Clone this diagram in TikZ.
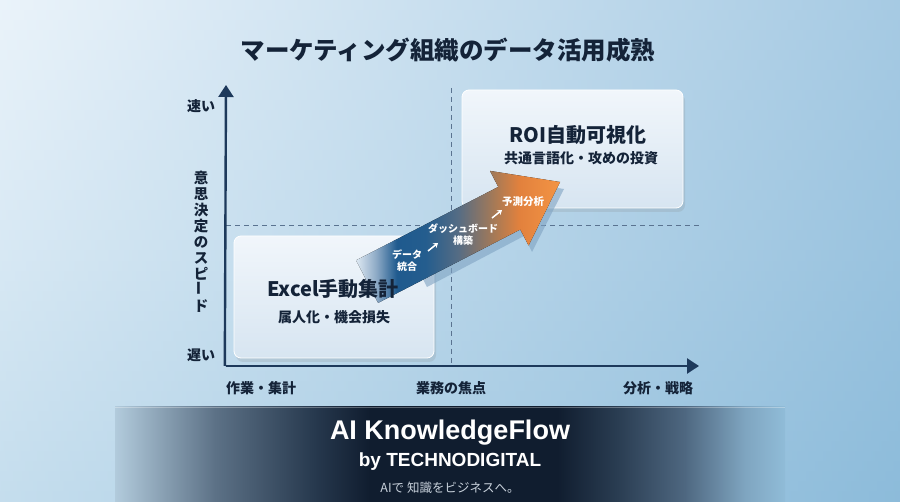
\documentclass[tikz,border=0pt]{standalone}
\usepackage{fontspec}
\setmainfont{Noto Sans CJK JP}
\newfontfamily\brandfont{Liberation Sans}
\usetikzlibrary{arrows.meta, shadows}

\definecolor{bgLight}{HTML}{EAF3FA}
\definecolor{bgDeep}{HTML}{A6CAE3}
\definecolor{bgLowL}{HTML}{C4DDED}
\definecolor{bgLowR}{HTML}{8CBBDA}
\definecolor{axisBlue}{HTML}{1D395B}
\definecolor{guideGray}{HTML}{5A7390}
\definecolor{inkNavy}{HTML}{142338}
\definecolor{boxTop}{HTML}{F1F6FB}
\definecolor{boxBot}{HTML}{D7E5F1}
\definecolor{flowFade}{HTML}{DDE8F2}
\definecolor{flowHaze}{HTML}{8CA9C5}
\definecolor{flowBlue}{HTML}{1F5A8E}
\definecolor{flowDeep}{HTML}{245D8E}
\definecolor{flowSlate}{HTML}{556C84}
\definecolor{flowBrown}{HTML}{A87A55}
\definecolor{flowAmber}{HTML}{E2813D}
\definecolor{flowOrange}{HTML}{F39444}
\definecolor{flowShadow}{HTML}{7FA3C2}
\definecolor{bandLeft}{HTML}{B2CBDC}
\definecolor{bandSoftL}{HTML}{5C7186}
\definecolor{bandMidL}{HTML}{26384D}
\definecolor{bandDark}{HTML}{101D2F}
\definecolor{bandMidR}{HTML}{2A3D52}
\definecolor{bandSoftR}{HTML}{4E6780}
\definecolor{bandPaleR}{HTML}{7FA5C0}
\definecolor{bandRight}{HTML}{90BCD8}
\definecolor{tagGray}{HTML}{C9D2DC}

% shadings are fitted so that 25bp..75bp spans the path
\pgfdeclarehorizontalshading{bandshade}{100bp}{color(0bp)=(bandLeft); color(25bp)=(bandLeft); color(32.5bp)=(bandSoftL); color(40bp)=(bandMidL); color(44bp)=(bandDark); color(58bp)=(bandDark); color(62.5bp)=(bandMidR); color(67.5bp)=(bandSoftR); color(72bp)=(bandPaleR); color(75bp)=(bandRight); color(100bp)=(bandRight)}
\pgfdeclarehorizontalshading{flowshade}{100bp}{color(0bp)=(flowFade); color(25bp)=(flowFade); color(30bp)=(flowHaze); color(35bp)=(flowBlue); color(42bp)=(flowDeep); color(50bp)=(flowSlate); color(59bp)=(flowBrown); color(65bp)=(flowAmber); color(75bp)=(flowOrange); color(100bp)=(flowOrange)}

\begin{document}
\begin{tikzpicture}[
    x=1pt, y=-1pt,
    axis/.style={draw=axisBlue, line width=2.4pt, -{Triangle[length=12pt, width=15pt]}},
    guide/.style={draw=guideGray, line width=0.8pt, dash pattern=on 5pt off 4pt},
    stage/.style={draw=white, line width=0.8pt, rounded corners=7pt, top color=boxTop, bottom color=boxBot, drop shadow={opacity=0.18, shadow xshift=2pt, shadow yshift=-4pt}},
    headline/.style={text=inkNavy, font=\bfseries\fontsize{20}{24}\selectfont},
    subline/.style={text=inkNavy, font=\bfseries\fontsize{14}{17}\selectfont},
    axislabel/.style={text=inkNavy, font=\bfseries\fontsize{14}{17}\selectfont},
    steplabel/.style={text=white, font=\bfseries\fontsize{10}{12}\selectfont, align=center},
    tick/.style={white, line width=1.5pt, -{Stealth[length=4.5pt, width=6pt]}}
]
\useasboundingbox (0,0) rectangle (900,502);

% Background in strips and footer band
\foreach \i in {0,...,49} {
    \pgfmathtruncatemacro\p{100-2*\i}
    \fill[left color=bgLight!\p!bgLowL, right color=bgDeep!\p!bgLowR] (0,\i*10.04) rectangle (900,\i*10.04+10.6);
}
\fill[shading=bandshade] (115,407) rectangle (785,502);
\draw[white, opacity=0.3, line width=0.8pt] (115,407.5) -- (785,407.5);

% Title
\node[text=inkNavy, font=\bfseries\fontsize{24.5}{28}\selectfont] (title) at (448,50) {マーケティング組織のデータ活用成熟};

% Axes
\coordinate (origin) at (226,366);
\coordinate (ytop) at (226,85);
\coordinate (xend) at (699,366);
\coordinate (midtop) at (451,88);
\coordinate (midbot) at (451,366);
\coordinate (hleft) at (226,225);
\coordinate (hright) at (700,225);

\draw[guide] (midtop) -- (midbot);
\draw[guide] (hleft) -- (hright);
\draw[axis] ([xshift=-1.2pt]origin) -- (ytop);
\draw[axis] (origin) -- (xend);

% Axis labels
\node[axislabel] (fast) at (201,106) {速い};
\node[axislabel] (slow) at (201,355) {遅い};
\node[axislabel, font=\bfseries\fontsize{14.5}{16}\selectfont, align=center] (speed) at (201,242)
    {意\\思\\決\\定\\の\\ス\\ピ\\\rotatebox{90}{ー}\\ド};
\node[axislabel] (work) at (261,388) {作業・集計};
\node[axislabel] (focus) at (451,388) {業務の焦点};
\node[axislabel] (analysis) at (658,388) {分析・戦略};

% Stages
\node[stage, minimum width=200pt, minimum height=122pt] (excel) at (334,297) {};
\node[stage, minimum width=221pt, minimum height=118pt] (roi) at (572.5,149) {};

% Flow arrow
\fill[flowShadow, opacity=0.6] (405,244) -- (502,194) -- (494,178) -- (564,189) -- (532,252) -- (524,236) -- (427,287) -- cycle;
\fill[shading=flowshade]
    (356.1,260.3) -- (498.3,186.9) -- (490,170.9) -- (560,182) -- (528.6,245.5) -- (520.3,229.5) -- (378.1,302.9) -- cycle;

% Stage texts
\node[headline] (excelT) at (333,289) {Excel手動集計};
\node[subline] (excelS) at (334,317) {属人化・機会損失};
\node[headline] (roiT) at (578,135) {ROI自動可視化};
\node[subline] (roiS) at (581,158) {共通言語化・攻めの投資};

% Steps along the arrow
\node[steplabel] (integrate) at (407,261) {データ\\統合};
\node[steplabel] (dashboard) at (463,235) {ダッシュボード\\構築};
\node[steplabel, font=\bfseries\fontsize{10.5}{12}\selectfont] (forecast) at (523,202) {予測分析};
\draw[tick] (428,251) -- (438,243);
\draw[tick] (492,218) -- (502,210);

% Footer
\node[text=white, font=\brandfont\bfseries\fontsize{27}{30}\selectfont] (brand) at (450,433) {AI KnowledgeFlow};
\node[text=white, font=\brandfont\bfseries\fontsize{19}{22}\selectfont] (maker) at (450,462) {by TECHNODIGITAL};
\node[text=tagGray, font=\fontsize{12.5}{15}\selectfont] (slogan) at (450,488) {AIで 知識をビジネスへ。};
\end{tikzpicture}
\end{document}
